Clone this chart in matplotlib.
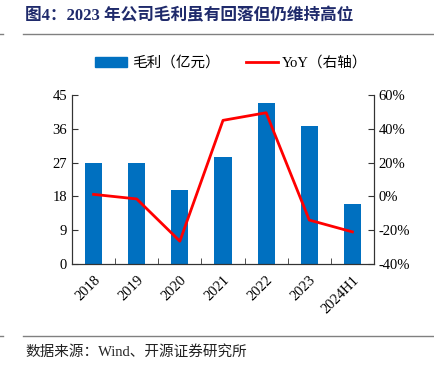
import matplotlib
matplotlib.use("Agg")
import matplotlib.pyplot as plt
from matplotlib.ticker import FuncFormatter, FixedLocator
from matplotlib.lines import Line2D

plt.rcParams['font.family'] = ['Liberation Serif', 'Noto Sans CJK SC']

categories = ['2018', '2019', '2020', '2021', '2022', '2023', '2024H1']
gross_profit = [27.0, 26.8, 19.7, 28.5, 42.8, 36.7, 16.0]
yoy = [1.2, -1.5, -26.5, 45.0, 49.5, -14.0, -21.0]
left_ticks = [0, 9, 18, 27, 36, 45]
right_ticks = [-40, -20, 0, 20, 40, 60]

fig = plt.figure(figsize=(4.35, 3.69), dpi=100)
ax = fig.add_axes([72/435, 1-264/369, 302/435, 169/369])
x = range(len(categories))
ax.bar(x, gross_profit, width=0.4, color='#0070C0', label='毛利（亿元）', zorder=2)
ax.set_xlim(-0.5, len(categories)-0.5)
ax.set_ylim(0, 45)
ax.set_yticks(left_ticks)
ax.set_xticks(list(x))
ax.set_xticklabels(categories, rotation=45, ha='right', rotation_mode='anchor', fontsize=10.5)
ax.xaxis.set_minor_locator(FixedLocator([i + 0.5 for i in range(-1, len(categories))]))
ax.tick_params(axis='x', which='major', length=0, pad=7)
ax.tick_params(axis='x', which='minor', length=4, direction='in', color='#333333')
ax.tick_params(axis='y', length=4, direction='in', labelsize=10.5, color='#333333')
ax.spines['top'].set_visible(False)
for s in ['left', 'right', 'bottom']:
    ax.spines[s].set_color('#333333')

ax2 = ax.twinx()
ax2.plot(list(x), yoy, color='#FF0000', lw=2, zorder=3)
ax2.set_ylim(-40, 60)
ax2.set_yticks(right_ticks)
ax2.yaxis.set_major_formatter(FuncFormatter(lambda v, p: f'{v:.0f}%'))
ax2.tick_params(axis='y', length=4, direction='in', labelsize=10.5, color='#333333')
ax2.spines['top'].set_visible(False)
for s in ['left', 'right', 'bottom']:
    ax2.spines[s].set_color('#333333')

handles = [plt.Rectangle((0, 0), 1, 1, color='#0070C0'),
           Line2D([0], [0], color='#FF0000', lw=2)]
fig.legend(handles, ['毛利（亿元）', 'YoY（右轴）'], loc='center', bbox_to_anchor=(0.532, 1-63/369),
           ncol=2, frameon=False, fontsize=10.5, handlelength=2.2, columnspacing=1.8, handletextpad=0.3)

fig.text(25/435, 1-16/369, '图4：2023 年公司毛利虽有回落但仍维持高位', fontsize=12, fontweight='bold',
         color='#1F2A6B', va='center', ha='left')
fig.add_artist(Line2D([23/435, 1], [1-34/369, 1-34/369], color='#808080', lw=1))
fig.add_artist(Line2D([0, 3/435], [1-34/369, 1-34/369], color='#808080', lw=1))
fig.add_artist(Line2D([23/435, 1], [1-336/369, 1-336/369], color='#808080', lw=1))
fig.add_artist(Line2D([0, 3/435], [1-336/369, 1-336/369], color='#808080', lw=1))
fig.text(25/435, 1-352/369, '数据来源：Wind、开源证券研究所', fontsize=10.5, color='#222222', va='center', ha='left')

fig.savefig('out.png', dpi=100)
